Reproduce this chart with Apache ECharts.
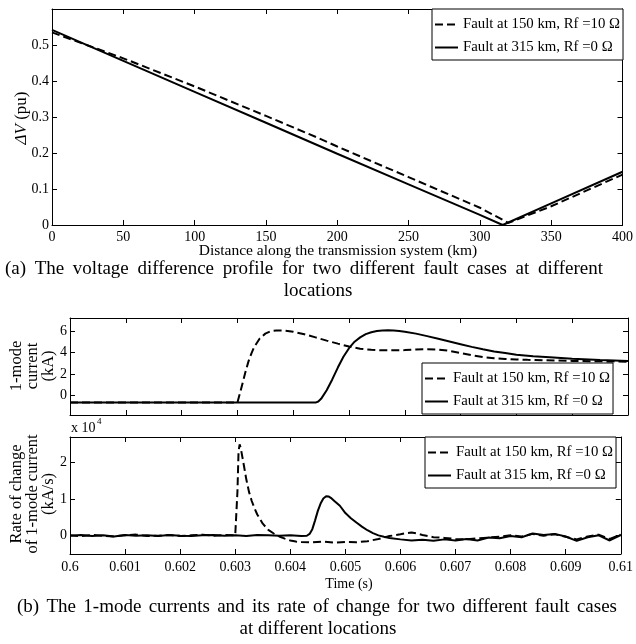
<!DOCTYPE html>
<html><head><meta charset="utf-8">
<script src="https://cdn.jsdelivr.net/npm/echarts@6/dist/echarts.min.js"></script>
<style>html,body{margin:0;padding:0;background:#fff}#c{width:636px;height:644px}</style>
</head><body><div id="c"></div>
<script>
const FONT = '"Liberation Serif", "Times New Roman", serif';
const name150 = 'Fault at 150 km, Rf =10 \u03A9';
const name315 = 'Fault at 315 km, Rf =0 \u03A9';

// (a) voltage difference profile
const distTicks = [0, 50, 100, 150, 200, 250, 300, 350, 400];
const dvTicks = [0, 0.1, 0.2, 0.3, 0.4, 0.5];
const dist150 = [0, 50, 100, 150, 186, 200, 250, 300, 320, 350, 400];
const dv150   = [0.535, 0.463, 0.385, 0.303, 0.243, 0.218, 0.133, 0.048, 0.006, 0.052, 0.14];
const dist315 = [0, 50, 100, 150, 200, 250, 300, 316, 350, 400];
const dv315   = [0.542, 0.456, 0.370, 0.284, 0.198, 0.113, 0.028, 0.0, 0.060, 0.148];

// (b) time axis
const timeTicks = [0.6, 0.601, 0.602, 0.603, 0.604, 0.605, 0.606, 0.607, 0.608, 0.609, 0.61];

// 1-mode current (kA)
const curTicks = [0, 2, 4, 6];
const tCur150 = [0.6, 0.603, 0.60305, 0.6031, 0.60315, 0.6032, 0.60325, 0.6033, 0.6034, 0.6035, 0.6036, 0.6037, 0.6038, 0.6039, 0.604, 0.6042, 0.6044, 0.6046, 0.6048, 0.605, 0.6052, 0.6054, 0.6056, 0.6058, 0.606, 0.6062, 0.6064, 0.6066, 0.6068, 0.607, 0.6072, 0.6074, 0.6076, 0.6078, 0.608, 0.6082, 0.6085, 0.609, 0.6095, 0.61];
const iCur150 = [-0.65, -0.65, 0.3, 1.3, 2.3, 3.2, 3.9, 4.5, 5.3, 5.75, 5.98, 6.05, 6.05, 6.0, 5.92, 5.7, 5.4, 5.1, 4.82, 4.55, 4.35, 4.25, 4.2, 4.2, 4.22, 4.27, 4.3, 4.27, 4.15, 3.95, 3.75, 3.58, 3.47, 3.4, 3.35, 3.32, 3.28, 3.22, 3.18, 3.15];
const tCur315 = [0.6, 0.6044, 0.60445, 0.6045, 0.6046, 0.6047, 0.6048, 0.6049, 0.605, 0.6051, 0.6052, 0.6053, 0.6054, 0.6055, 0.6056, 0.6057, 0.6058, 0.6059, 0.606, 0.6062, 0.6064, 0.6066, 0.6068, 0.607, 0.6072, 0.6074, 0.6076, 0.6078, 0.608, 0.6083, 0.6086, 0.609, 0.6095, 0.61];
const iCur315 = [-0.65, -0.65, -0.55, -0.3, 0.5, 1.5, 2.6, 3.6, 4.4, 5.0, 5.4, 5.7, 5.88, 6.0, 6.05, 6.07, 6.05, 6.0, 5.93, 5.75, 5.52, 5.27, 5.02, 4.77, 4.52, 4.3, 4.1, 3.95, 3.8, 3.65, 3.55, 3.42, 3.3, 3.2];

// Rate of change of 1-mode current (x 10^4 kA/s)
const rateTicks = [0, 1, 2];
const tRate150 = [0.6, 0.6002, 0.6004, 0.6006, 0.6008, 0.601, 0.6012, 0.6014, 0.6016, 0.6018, 0.602, 0.6022, 0.6024, 0.6026, 0.6028, 0.603,
  0.60302, 0.60304, 0.60306, 0.60308, 0.6031, 0.60313, 0.60316, 0.6032, 0.60325, 0.6033, 0.60335, 0.6034, 0.6035, 0.6036, 0.6037, 0.6038, 0.6039, 0.604, 0.6041, 0.6042, 0.6044, 0.6046, 0.6048, 0.605, 0.6052, 0.6054, 0.6056, 0.6058, 0.606, 0.6061, 0.6062, 0.6063, 0.6064, 0.6066, 0.6068, 0.607, 0.6072, 0.6074, 0.6076, 0.6078, 0.608, 0.6082, 0.6084, 0.6086, 0.6088, 0.609, 0.6092, 0.6094, 0.6096, 0.6098, 0.61];
const rRate150 = [0.01, -0.01, 0.02, 0.0, -0.02, 0.01, 0.03, -0.01, 0.0, 0.02, -0.01, 0.01, 0.03, 0.0, 0.02, 0.01,
  0.05, 1.2, 2.3, 2.5, 2.4, 2.15, 1.9, 1.55, 1.2, 0.95, 0.75, 0.58, 0.33, 0.16, 0.06, -0.02, -0.08, -0.13, -0.16, -0.17, -0.18, -0.16, -0.19, -0.17, -0.18, -0.15, -0.09, -0.01, 0.04, 0.07, 0.09, 0.06, 0.02, -0.04, -0.06, -0.09, -0.1, -0.07, -0.05, -0.03, 0.01, -0.02, 0.05, 0.0, 0.04, -0.03, -0.1, -0.02, 0.03, -0.09, 0.03];
const tRate315 = [0.6, 0.6002, 0.6004, 0.6006, 0.6008, 0.601, 0.6012, 0.6014, 0.6016, 0.6018, 0.602, 0.6022, 0.6024, 0.6026, 0.6028, 0.603, 0.6032, 0.6034, 0.6036, 0.6038, 0.604, 0.6042, 0.6043,
  0.60435, 0.6044, 0.60445, 0.6045, 0.60455, 0.6046, 0.60465, 0.6047, 0.60475, 0.6048, 0.6049, 0.605, 0.6051, 0.6052, 0.6053, 0.6054, 0.6055, 0.6056, 0.6057, 0.6058, 0.606, 0.6062, 0.6064, 0.6066, 0.6068, 0.607, 0.6072, 0.6074, 0.6076, 0.6078, 0.608, 0.6082, 0.6084, 0.6086, 0.6088, 0.609, 0.6092, 0.6094, 0.6096, 0.6098, 0.61];
const rRate315 = [0.0, 0.02, -0.01, 0.01, -0.02, 0.02, 0.0, 0.01, -0.01, 0.02, 0.0, -0.01, 0.01, 0.02, 0.0, 0.01, -0.01, 0.02, 0.01, 0.0, 0.01, -0.01, 0.0,
  0.05, 0.18, 0.42, 0.68, 0.88, 1.02, 1.08, 1.07, 1.02, 0.95, 0.82, 0.62, 0.48, 0.36, 0.25, 0.15, 0.07, 0.01, -0.03, -0.06, -0.1, -0.13, -0.11, -0.14, -0.1, -0.13, -0.09, -0.13, -0.05, -0.07, -0.01, -0.04, 0.06, 0.02, 0.05, -0.02, -0.14, -0.04, 0.01, -0.13, 0.02];

// Caption texts
const captionA1 = '(a) The voltage difference profile for two different fault cases at different';
const captionA2 = 'locations';
const captionB1 = '(b) The 1-mode currents and its rate of change for two different fault cases';
const captionB2 = 'at different locations';

const pairs = (xs, ys) => xs.map((x, i) => [x, ys[i]]);
const BLACK = '#000';
const DASH = [8, 4];

function axisBase(gridIndex, position, min, max, ticks, showLabels, fmt, margin) {
  return {
    type: 'value', gridIndex, position, min, max,
    axisLine: { show: true, onZero: false, lineStyle: { color: BLACK, width: 1 } },
    axisTick: { show: true, inside: true, length: 5, lineStyle: { color: BLACK, width: 1 }, customValues: ticks },
    axisLabel: { show: showLabels, color: BLACK, fontFamily: FONT, fontSize: 14, margin: margin, customValues: ticks, formatter: fmt },
    splitLine: { show: false }
  };
}
const fmtNum = v => String(+(+v).toFixed(3));

const xAxis = [
  axisBase(0, 'bottom', 0, 400, distTicks, true, fmtNum, 5),
  axisBase(0, 'top', 0, 400, distTicks, false, fmtNum, 5),
  axisBase(1, 'bottom', 0.6, 0.61, timeTicks, false, fmtNum, 5),
  axisBase(1, 'top', 0.6, 0.61, timeTicks, false, fmtNum, 5),
  axisBase(2, 'bottom', 0.6, 0.61, timeTicks, true, fmtNum, 6),
  axisBase(2, 'top', 0.6, 0.61, timeTicks, false, fmtNum, 5)
];
const yAxis = [
  axisBase(0, 'left', 0, 0.6, dvTicks, true, fmtNum, 3),
  axisBase(0, 'right', 0, 0.6, dvTicks, false, fmtNum, 3),
  axisBase(1, 'left', -1.8, 7.2, curTicks, true, fmtNum, 3),
  axisBase(1, 'right', -1.8, 7.2, curTicks, false, fmtNum, 3),
  axisBase(2, 'left', -0.5, 2.7, rateTicks, true, fmtNum, 3),
  axisBase(2, 'right', -0.5, 2.7, rateTicks, false, fmtNum, 3)
];

function line(name, data, xi, yi, dashed) {
  return {
    type: 'line', name, data, xAxisIndex: xi, yAxisIndex: yi,
    symbol: 'none', showSymbol: false, smooth: false,
    lineStyle: { color: BLACK, width: 2, type: dashed ? DASH : 'solid' },
    itemStyle: { color: BLACK },
    emphasis: { disabled: true }, silent: true
  };
}

function legendAt(left, top) {
  return {
    data: [name150, name315], left, top, orient: 'vertical',
    itemWidth: 23, itemHeight: 16, itemGap: 8,
    padding: [8, 3, 5, 2],
    borderColor: BLACK, borderWidth: 1, borderRadius: 0,
    backgroundColor: '#fff',
    itemStyle: { color: 'rgba(0,0,0,0)', borderWidth: 0, opacity: 0 },
    textStyle: { color: BLACK, fontFamily: FONT, fontSize: 14.8 },
    selectedMode: false
  };
}

function txt(x, y, text, size) {
  return {
    type: 'text', x, y, silent: true,
    style: { text, fill: BLACK, font: size + 'px ' + FONT, align: 'center', verticalAlign: 'middle' }
  };
}

// justified line (the caption's first line is set justified in the source)
const measureCtx = document.createElement('canvas').getContext('2d');
function justified(text, x0, x1, y, size) {
  measureCtx.font = size + 'px ' + FONT;
  const words = text.split(' ');
  const widths = words.map(w => measureCtx.measureText(w).width);
  const total = widths.reduce((a, b) => a + b, 0);
  const gap = (x1 - x0 - total) / (words.length - 1);
  const out = [];
  let x = x0;
  words.forEach((w, i) => {
    out.push({ type: 'text', x, y, silent: true,
      style: { text: w, fill: BLACK, font: size + 'px ' + FONT, align: 'left', verticalAlign: 'middle' } });
    x += widths[i] + gap;
  });
  return out;
}

const option = {
  animation: false,
  backgroundColor: '#fff',
  grid: [
    { left: 52, top: 9, width: 573, height: 216 },
    { left: 70, top: 318, width: 558, height: 97 },
    { left: 70, top: 437, width: 558, height: 117 }
  ],
  xAxis, yAxis,
  legend: [legendAt(432, 9), legendAt(422, 363), legendAt(425, 437)],
  series: [
    line(name150, pairs(dist150, dv150), 0, 0, true),
    line(name315, pairs(dist315, dv315), 0, 0, false),
    line(name150, pairs(tCur150, iCur150), 2, 2, true),
    line(name315, pairs(tCur315, iCur315), 2, 2, false),
    line(name150, pairs(tRate150, rRate150), 4, 4, true),
    line(name315, pairs(tRate315, rRate315), 4, 4, false)
  ],
  graphic: [
    {
      type: 'text', x: 22, y: 118, rotation: Math.PI / 2, silent: true,
      style: {
        text: '{i|\u0394V} (pu)', fill: BLACK, font: '17px ' + FONT, align: 'center', verticalAlign: 'middle',
        rich: { i: { fontStyle: 'italic', fontFamily: FONT, fontSize: 17, fill: BLACK } }
      }
    },
    txt(338, 251, 'Distance along the transmission system (km)', 15.5),
    ...justified(captionA1, 5, 603, 269, 19),
    txt(318, 291, captionA2, 19),
    {
      type: 'text', x: 33, y: 366, rotation: Math.PI / 2, silent: true,
      style: { text: '1-mode\ncurrent\n(kA)', fill: BLACK, font: '16.5px ' + FONT, align: 'center', verticalAlign: 'middle', lineHeight: 16 }
    },
    { type: 'text', x: 71, y: 428, silent: true, style: { text: 'x 10', fill: BLACK, font: '14px ' + FONT, align: 'left', verticalAlign: 'middle' } },
    { type: 'text', x: 97, y: 422, silent: true, style: { text: '4', fill: BLACK, font: '9px ' + FONT, align: 'left', verticalAlign: 'middle' } },
    {
      type: 'text', x: 33, y: 494, rotation: Math.PI / 2, silent: true,
      style: { text: 'Rate of change\nof 1-mode current\n(kA/s)', fill: BLACK, font: '16.5px ' + FONT, align: 'center', verticalAlign: 'middle', lineHeight: 16 }
    },
    txt(349, 584, 'Time (s)', 14),
    ...justified(captionB1, 17, 617, 607, 19),
    txt(318, 629, captionB2, 19)
  ]
};

const chart = echarts.init(document.getElementById('c'), null, { renderer: 'canvas' });
chart.setOption(option);
</script>
</body></html>
